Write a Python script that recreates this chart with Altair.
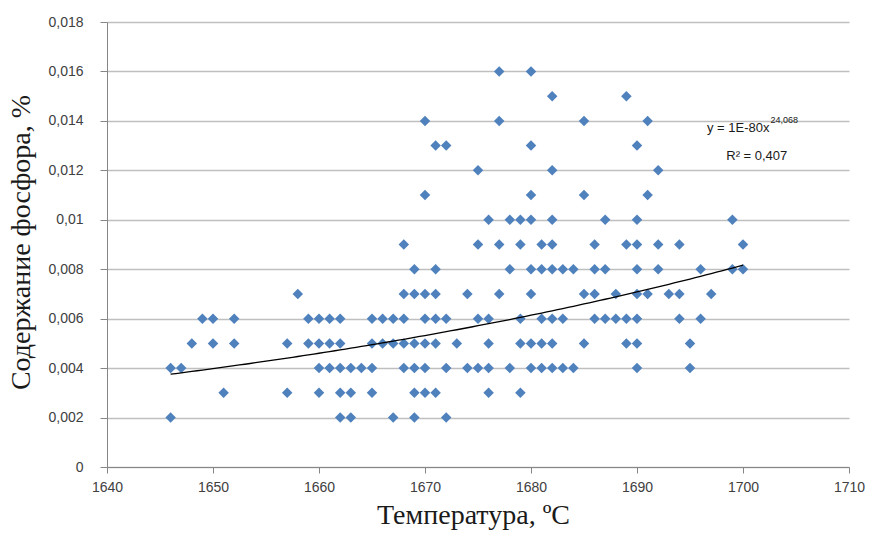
import altair as alt
import pandas as pd

# Scatter data: temperature (°C) and phosphorus content (%)
temperature = [
    1646, 1662, 1663, 1667, 1669, 1672,
    1651, 1657, 1660, 1662, 1663, 1665, 1669, 1670, 1671, 1676, 1679,
    1646, 1647, 1660, 1661, 1662, 1663, 1664, 1665, 1668, 1669, 1670, 1672, 1674, 1675, 1676, 1678,
    1680, 1681, 1682, 1683, 1684, 1690, 1695,
    1648, 1650, 1652, 1657, 1659, 1660, 1661, 1662, 1665, 1666, 1667, 1668, 1669, 1670, 1671, 1673,
    1676, 1679, 1680, 1681, 1682, 1685, 1689, 1690, 1695,
    1649, 1650, 1652, 1659, 1660, 1661, 1662, 1665, 1666, 1667, 1668, 1670, 1671, 1672, 1675, 1676,
    1679, 1681, 1682, 1683, 1686, 1687, 1688, 1689, 1690, 1694, 1696,
    1658, 1668, 1669, 1670, 1671, 1674, 1677, 1680, 1685, 1686, 1688, 1690, 1691, 1693, 1694, 1697,
    1669, 1671, 1678, 1680, 1681, 1682, 1683, 1684, 1686, 1687, 1690, 1692, 1696, 1699, 1700,
    1668, 1675, 1677, 1679, 1681, 1682, 1686, 1689, 1690, 1692, 1694, 1700,
    1676, 1678, 1679, 1680, 1682, 1687, 1690, 1699,
    1670, 1680, 1685, 1691,
    1675, 1682, 1692,
    1671, 1672, 1680, 1690,
    1670, 1677, 1685, 1691,
    1682, 1689,
    1677, 1680,
]
phosphorus = (
    [0.002] * 6 + [0.003] * 11 + [0.004] * 23 + [0.005] * 25 + [0.006] * 27
    + [0.007] * 16 + [0.008] * 15 + [0.009] * 12 + [0.010] * 8 + [0.011] * 4
    + [0.012] * 3 + [0.013] * 4 + [0.014] * 4 + [0.015] * 2 + [0.016] * 2
)

x_ticks = [1640, 1650, 1660, 1670, 1680, 1690, 1700, 1710]
y_ticks = [0, 0.002, 0.004, 0.006, 0.008, 0.010, 0.012, 0.014, 0.016, 0.018]

# Power trendline shown on the chart: y = a * x^b (a displayed rounded as 1E-80)
trend_coef = 1.45e-80
trend_exp = 24.068
trend_range = [1646, 1700]

eq_main = ["y = 1E-80x"]
eq_exp = ["24,068"]
eq_r2 = ["R² = 0,407"]
# label anchor positions in data units
eq_main_pos = [1702.5, 0.01355]
eq_exp_pos = [1702.6, 0.01390]
eq_r2_pos = [1701.3, 0.01242]

df = pd.DataFrame({"t": temperature, "p": phosphorus})

x_scale = alt.Scale(domain=[1640, 1710], nice=False, zero=False)
y_scale = alt.Scale(domain=[0, 0.018], nice=False)

axis_common = dict(
    domainColor="#868686",
    tickColor="#868686",
    labelFont="Liberation Sans",
    labelFontSize=14,
    labelColor="#404040",
    titleFont="Liberation Serif",
    titleFontSize=28,
    titleFontWeight="normal",
    titleColor="#1a1a1a",
)

x_axis = alt.Axis(values=x_ticks, format="d", grid=False, tickSize=6,
                  labelPadding=7, titlePadding=7, labelFlush=False,
                  titleX=366, **axis_common)
y_axis = alt.Axis(values=y_ticks, grid=True, gridColor="#bfbfbf", gridWidth=1.5,
                  tickSize=7, labelPadding=17, titleX=-72, titleY=220,
                  labelExpr="replace(format(datum.value, '.3~f'), '.', ',')",
                  **axis_common)

points = alt.Chart(df).mark_point(shape="diamond", filled=True, size=110,
                                  color="#4F81BD", opacity=1).encode(
    x=alt.X("t:Q", scale=x_scale, axis=x_axis, title="Температура, ºC"),
    y=alt.Y("p:Q", scale=y_scale, axis=y_axis, title="Содержание фосфора, %"),
)

trend = alt.Chart(
    alt.sequence(trend_range[0], trend_range[1] + 0.25, 0.5, as_="t")
).transform_calculate(
    p=f"{trend_coef} * pow(datum.t, {trend_exp})"
).mark_line(color="black", strokeWidth=1.3).encode(
    x=alt.X("t:Q", scale=x_scale),
    y=alt.Y("p:Q", scale=y_scale),
)

def label(text, pos, size, align, baseline="alphabetic"):
    d = pd.DataFrame({"t": [pos[0]], "p": [pos[1]], "txt": text})
    return alt.Chart(d).mark_text(
        font="Liberation Sans", fontSize=size, align=align, baseline=baseline,
        color="#1a1a1a"
    ).encode(
        x=alt.X("t:Q", scale=x_scale),
        y=alt.Y("p:Q", scale=y_scale),
        text="txt:N",
    )

chart = alt.layer(
    points,
    trend,
    label(eq_main, eq_main_pos, 13, "right"),
    label(eq_exp, eq_exp_pos, 9, "left"),
    label(eq_r2, eq_r2_pos, 13, "center"),
).properties(
    width=742,
    height=445,
    padding={"left": 107, "top": 22, "right": 26, "bottom": 70},
    autosize=alt.AutoSizeParams(type="none"),
    background="white",
).configure_view(stroke=None)

chart.save("out.html", embed_options={"renderer": "svg", "actions": False})
